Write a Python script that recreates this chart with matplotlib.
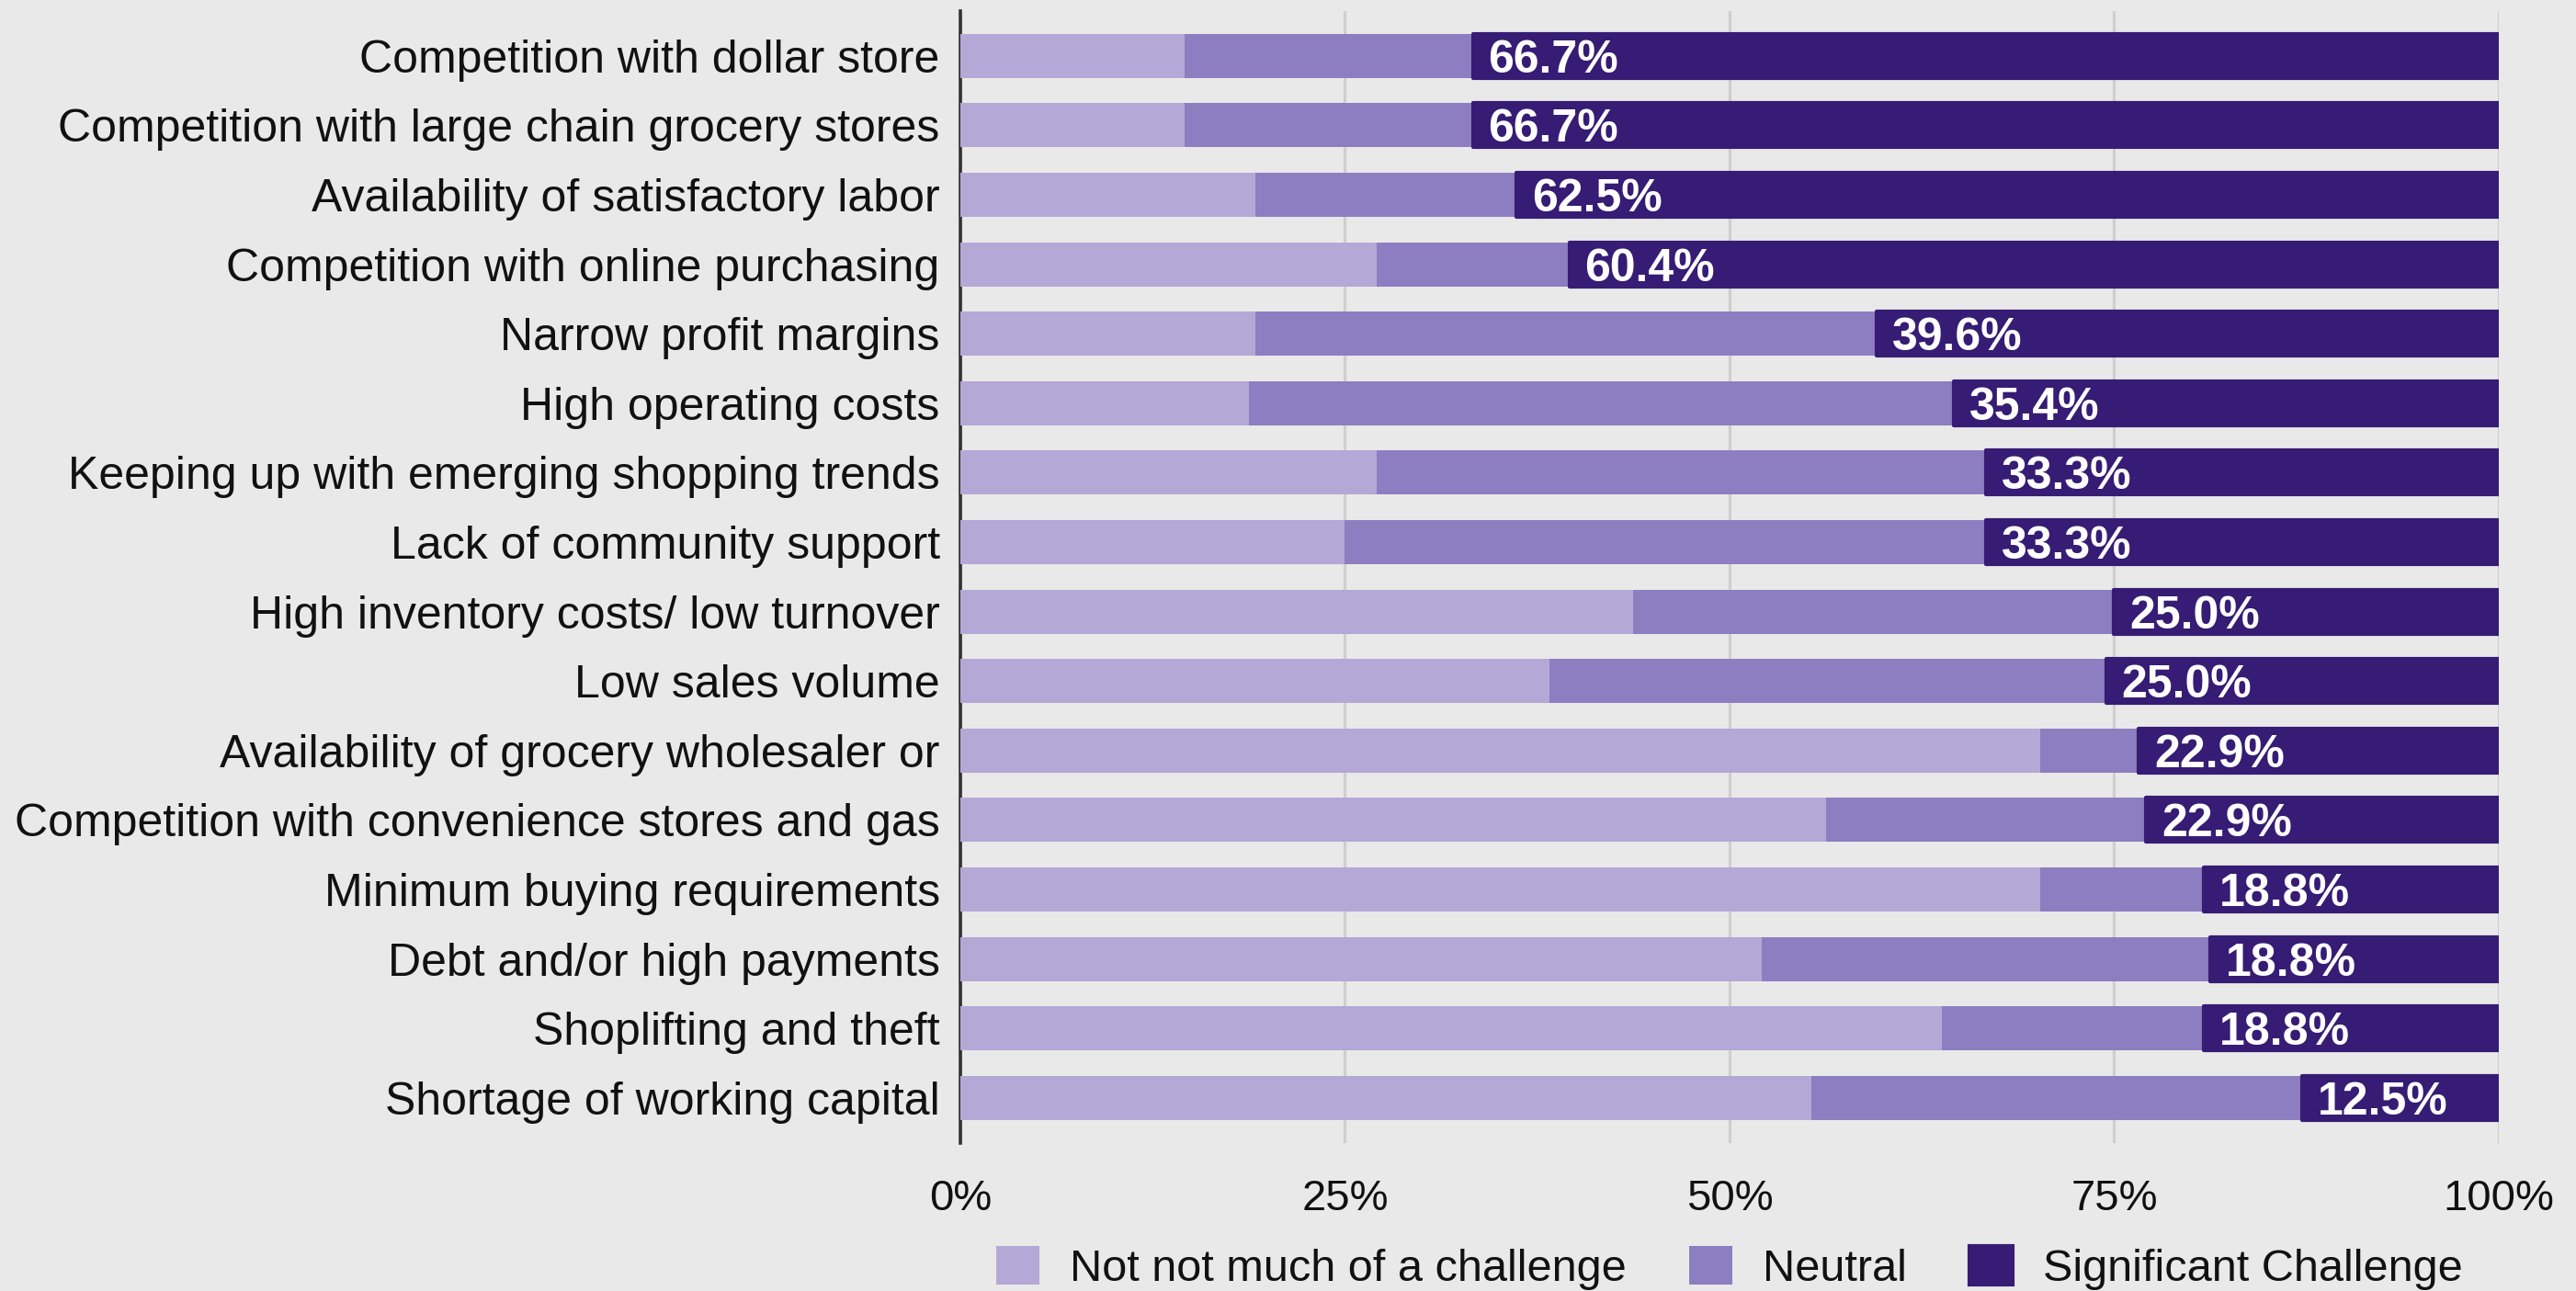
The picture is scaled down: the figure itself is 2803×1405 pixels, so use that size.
import matplotlib.pyplot as plt
import numpy as np

plt.rcParams['font.family'] = ['Liberation Sans', 'DejaVu Sans']

# survey responses (counts), 48 stores surveyed, a few skipped some items
categories = [
    "Competition with dollar store",
    "Competition with large chain grocery stores",
    "Availability of satisfactory labor",
    "Competition with online purchasing",
    "Narrow profit margins",
    "High operating costs",
    "Keeping up with emerging shopping trends",
    "Lack of community support",
    "High inventory costs/ low turnover",
    "Low sales volume",
    "Availability of grocery wholesaler or",
    "Competition with convenience stores and gas",
    "Minimum buying requirements",
    "Debt and/or high payments",
    "Shoplifting and theft",
    "Shortage of working capital",
]
not_much = np.array([7, 7, 9, 13, 9, 9, 13, 12, 21, 18, 33, 27, 33, 25, 30, 26])
neutral = np.array([9, 9, 8, 6, 19, 22, 19, 20, 15, 17, 3, 10, 5, 14, 8, 15])
significant = np.array([32, 32, 30, 29, 19, 17, 16, 16, 12, 12, 11, 11, 9, 9, 9, 6])
n_respondents = 48

series_names = ["Not not much of a challenge", "Neutral", "Significant Challenge"]
colors = ["#b4a8d6", "#8d7ec2", "#361c74"]
bg = "#e9e9e9"

answered = not_much + neutral + significant
p_low = not_much / answered * 100
p_mid = neutral / answered * 100
p_high = significant / answered * 100
sig_pct = significant / n_respondents * 100

fig = plt.figure(figsize=(28.03, 14.05), dpi=100, facecolor=bg)
ax = fig.add_axes([0.3728, 0.1146, 0.5972, 0.8768], facecolor=bg)

y = np.arange(len(categories))
h = 0.635
ax.barh(y, p_low, height=h, color=colors[0], label=series_names[0], zorder=3)
ax.barh(y, p_mid, left=p_low, height=h, color=colors[1], label=series_names[1], zorder=3)
ax.barh(y, p_high, left=p_low + p_mid, height=h, color=colors[2], label=series_names[2],
        zorder=3, edgecolor=colors[2], linewidth=3, joinstyle='round')

for i in range(len(categories)):
    ax.annotate(f"{sig_pct[i]:.1f}%", xy=(p_low[i] + p_mid[i], y[i]),
                xytext=(12, 0), textcoords='offset points',
                ha='left', va='center_baseline', color='white',
                fontsize=36, fontweight='bold', zorder=4)

ax.set_xlim(0, 100)
ax.set_ylim(len(categories) - 1 + 0.65, -0.645)
ax.set_xticks([0, 25, 50, 75, 100])
ax.set_xticklabels(["0%", "25%", "50%", "75%", "100%"])
ax.set_yticks(y)
ax.set_yticklabels(categories)
ax.tick_params(axis='x', length=0, pad=28, labelsize=34, colors='#111111')
ax.tick_params(axis='y', length=0, pad=16, labelsize=36, colors='#111111')

ax.grid(axis='x', color='#cfcfcf', linewidth=2.3, zorder=0)
ax.set_axisbelow(True)
for side in ['top', 'right', 'bottom']:
    ax.spines[side].set_visible(False)
ax.spines['left'].set_color('#333333')
ax.spines['left'].set_linewidth(2.6)

ax.legend(loc='upper center', bbox_to_anchor=(0.5, -0.075), ncol=3, frameon=False,
          fontsize=35, handlelength=0.97, handleheight=0.97, handletextpad=0.68,
          columnspacing=1.4, borderaxespad=0, labelcolor='#111111')

fig.savefig("out.png", dpi=100, facecolor=bg)
